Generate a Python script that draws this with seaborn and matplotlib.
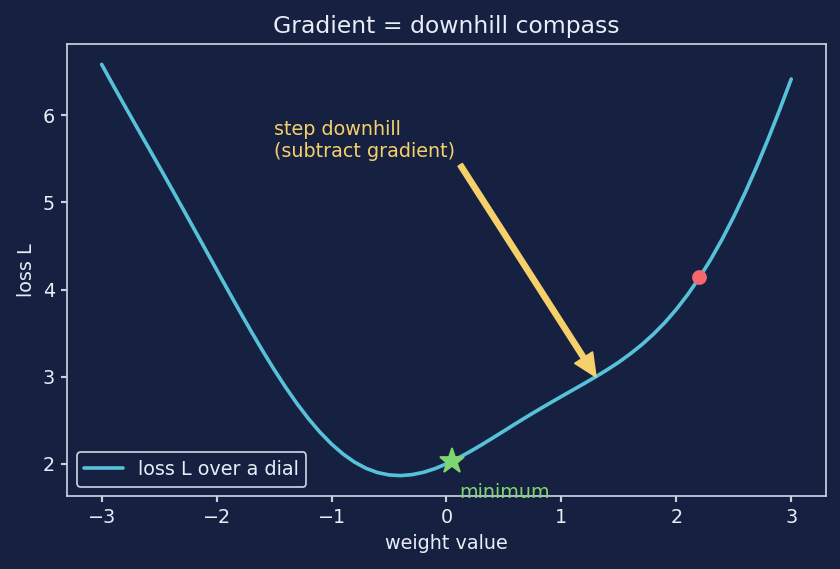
import numpy as np
import pandas as pd
import matplotlib
matplotlib.use("Agg")
import matplotlib.pyplot as plt
import seaborn as sns

# loss curve (weight value -> loss L)
weight = [-3.0, -2.9, -2.8, -2.7, -2.6, -2.5, -2.4, -2.3, -2.2, -2.1,
          -2.0, -1.9, -1.8, -1.7, -1.6, -1.5, -1.4, -1.3, -1.2, -1.1,
          -1.0, -0.9, -0.8, -0.7, -0.6, -0.5, -0.4, -0.3, -0.2, -0.1,
          0.0, 0.1, 0.2, 0.3, 0.4, 0.5, 0.6, 0.7, 0.8, 0.9,
          1.0, 1.1, 1.2, 1.3, 1.4, 1.5, 1.6, 1.7, 1.8, 1.9,
          2.0, 2.1, 2.2, 2.3, 2.4, 2.5, 2.6, 2.7, 2.8, 2.9, 3.0]
loss = [6.584, 6.344, 6.109, 5.877, 5.645, 5.413, 5.179, 4.943, 4.705, 4.467,
        4.227, 3.989, 3.753, 3.522, 3.298, 3.083, 2.880, 2.690, 2.517, 2.362,
        2.227, 2.113, 2.020, 1.949, 1.900, 1.873, 1.865, 1.876, 1.903, 1.945,
        2.000, 2.065, 2.137, 2.214, 2.295, 2.377, 2.460, 2.541, 2.620, 2.697,
        2.773, 2.848, 2.923, 3.000, 3.081, 3.167, 3.263, 3.368, 3.487, 3.621,
        3.773, 3.944, 4.135, 4.347, 4.581, 4.837, 5.115, 5.413, 5.731, 6.066, 6.416]

current_w, current_L = 2.2, 4.14
min_w, min_L = 0.05, 2.03
step_from = (0.12, 5.43)
step_to = (1.3, 3.0)

bg = "#162040"
fg = "#e8eef7"
spine = "#c8d0e0"
curve_c = "#56c1d9"
yellow = "#f5d06b"
green = "#7ed66f"
red = "#f4676a"

sns.set_theme(style="dark", rc={
    "figure.facecolor": bg, "axes.facecolor": bg,
    "axes.edgecolor": spine, "axes.labelcolor": fg,
    "xtick.color": fg, "ytick.color": fg, "text.color": fg,
    "xtick.bottom": True, "ytick.left": True,
    "axes.grid": False,
})
plt.rcParams["font.family"] = ["DejaVu Sans"]

df = pd.DataFrame({"weight value": weight, "loss L": loss})

fig, ax = plt.subplots(figsize=(6.72, 4.552), dpi=125)
sns.lineplot(data=df, x="weight value", y="loss L", ax=ax, color=curve_c,
             linewidth=2.1, label="loss L over a dial")
ax.plot([current_w], [current_L], "o", color=red, markersize=7.5, zorder=4)
ax.plot([min_w], [min_L], "*", color=green, markersize=15, zorder=4)
ax.text(min_w + 0.06, min_L - 0.42, "minimum", color=green, fontsize=11)

ax.annotate("", xy=step_to, xytext=step_from,
            arrowprops=dict(facecolor=yellow, edgecolor=yellow,
                            width=2.8, headwidth=12, headlength=13, shrink=0))
ax.text(-1.5, 5.48, "step downhill\n(subtract gradient)", color=yellow,
        fontsize=11, va="bottom")

ax.set_title("Gradient = downhill compass", fontsize=13.5, color=fg)
ax.set_xlabel("weight value", fontsize=11)
ax.set_ylabel("loss L", fontsize=11)
ax.tick_params(labelsize=11, length=3.5, color=spine)
for s in ax.spines.values():
    s.set_color(spine)
    s.set_linewidth(1)

leg = ax.legend(loc="lower left", fontsize=11, facecolor=bg, edgecolor=spine,
                framealpha=1)
for t in leg.get_texts():
    t.set_color(fg)

fig.subplots_adjust(left=0.080, right=0.983, top=0.923, bottom=0.128)
fig.savefig("out.png", facecolor=bg)
